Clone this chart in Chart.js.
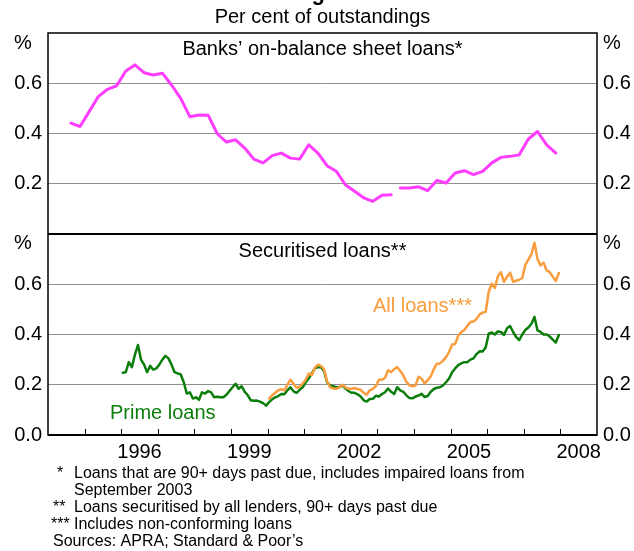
<!DOCTYPE html>
<html>
<head>
<meta charset="utf-8">
<script src="https://cdn.jsdelivr.net/npm/chart.js@4.4.1/dist/chart.umd.min.js"></script>
<style>
  html, body { margin: 0; padding: 0; background: #fff; }
</style>
</head>
<body>
<canvas id="arrears-chart" width="634" height="551"></canvas>
<script>
// Banks' on-balance sheet loans, quarterly (Sep 1994 - Jun 2003, then Sep 2003 - Dec 2007)
const banksStart = 1994.625;
const banksPre = [0.441, 0.428, 0.487, 0.547, 0.576, 0.59, 0.649, 0.673, 0.642, 0.633, 0.64, 0.593,
  0.54, 0.467, 0.474, 0.473, 0.399, 0.366, 0.375, 0.342, 0.298, 0.283, 0.312, 0.322,
  0.302, 0.298, 0.355, 0.322, 0.272, 0.25, 0.196, 0.17, 0.144, 0.13, 0.154, 0.156];
const banksPost = [0.183, 0.183, 0.188, 0.173, 0.213, 0.203, 0.243, 0.252, 0.236, 0.249, 0.283, 0.305,
  0.309, 0.315, 0.378, 0.408, 0.355, 0.322];

// Securitised loans, monthly
const primeStart = 1996;
const primeLoans = [
  0.248, 0.25, 0.29, 0.27, 0.32, 0.358, 0.3, 0.28, 0.25, 0.275, 0.26, 0.265,
  0.28, 0.3, 0.315, 0.305, 0.28, 0.25, 0.245, 0.242, 0.21, 0.165, 0.17, 0.145,
  0.15, 0.14, 0.17, 0.165, 0.175, 0.17, 0.15, 0.152, 0.15, 0.15, 0.16, 0.175,
  0.19, 0.204, 0.184, 0.194, 0.172, 0.158, 0.138, 0.136, 0.137, 0.133, 0.127, 0.117,
  0.131, 0.142, 0.15, 0.155, 0.163, 0.162, 0.178, 0.19, 0.174, 0.168, 0.18, 0.19,
  0.21, 0.225, 0.245, 0.265, 0.27, 0.27, 0.255, 0.21, 0.197, 0.194, 0.19, 0.19,
  0.197, 0.186, 0.175, 0.168, 0.168, 0.162, 0.153, 0.138, 0.133, 0.143, 0.144, 0.156,
  0.153, 0.163, 0.17, 0.185, 0.172, 0.163, 0.19, 0.178, 0.172, 0.158, 0.147, 0.146,
  0.153, 0.157, 0.164, 0.151, 0.155, 0.172, 0.183, 0.188, 0.19, 0.197, 0.21, 0.225,
  0.25, 0.265, 0.278, 0.285, 0.29, 0.29, 0.3, 0.305, 0.322, 0.333, 0.332, 0.348,
  0.403, 0.408, 0.4, 0.412, 0.41, 0.398, 0.425, 0.434, 0.41, 0.39, 0.378, 0.4,
  0.418, 0.428, 0.443, 0.47, 0.416, 0.41, 0.4, 0.4, 0.392, 0.38, 0.368, 0.398
];
const allStart = 2000;
const allLoans = [
  0.145, 0.158, 0.168, 0.178, 0.182, 0.178, 0.2, 0.22, 0.204, 0.188, 0.192, 0.205,
  0.22, 0.245, 0.238, 0.268, 0.28, 0.275, 0.262, 0.213, 0.19, 0.185, 0.184, 0.19,
  0.2, 0.19, 0.184, 0.184, 0.187, 0.183, 0.18, 0.168, 0.16, 0.178, 0.184, 0.195,
  0.22, 0.22, 0.228, 0.258, 0.25, 0.262, 0.27, 0.255, 0.237, 0.212, 0.198, 0.194,
  0.197, 0.232, 0.224, 0.205, 0.218, 0.234, 0.262, 0.284, 0.285, 0.295, 0.31, 0.33,
  0.36, 0.362, 0.395, 0.41, 0.418, 0.435, 0.45, 0.452, 0.462, 0.48, 0.487, 0.49,
  0.57, 0.602, 0.585, 0.632, 0.648, 0.61, 0.63, 0.646, 0.61, 0.614, 0.618, 0.625,
  0.677, 0.698, 0.72, 0.765, 0.7, 0.675, 0.686, 0.655, 0.648, 0.63, 0.613, 0.645
];

// Axis labels
const yearLabels = [1996, 1999, 2002, 2005, 2008];
const yTicks = [0, 0.2, 0.4, 0.6, 0.8];
const footnotes = [
  ["*", "Loans that are 90+ days past due, includes impaired loans from"],
  ["", "September 2003"],
  ["**", "Loans securitised by all lenders, 90+ days past due"],
  ["***", "Includes non-conforming loans"],
  ["Sources: APRA; Standard & Poor\u2019s", ""],
];

const FONT = '"Liberation Sans", Arial, sans-serif';
const GRID = "#8f8f8f";

function quarterly(start, values) {
  return values.map((v, i) => ({ x: start + i * 0.25, y: v }));
}
function monthly(start, values) {
  return values.map((v, i) => ({ x: start + (i + 0.5) / 12, y: v }));
}

function yAxis(position, weight, showZero) {
  return {
    type: "linear",
    position,
    stack: position,
    stackWeight: 1,
    weight,
    min: 0,
    max: 0.8,
    afterBuildTicks: (s) => { s.ticks = yTicks.map((v) => ({ value: v })); },
    afterFit: (s) => { s.width = position === "left" ? 48 : 37; },
    border: { display: false },
    grid: {
      display: position === "left",
      drawTicks: false,
      color: (c) => (c.tick && c.tick.value > 0.01 && c.tick.value < 0.79 ? GRID : "rgba(0,0,0,0)"),
      lineWidth: 1,
    },
    ticks: {
      padding: 6,
      color: "#000",
      font: { family: FONT, size: 20 },
      callback: (v) => {
        if (v > 0.79) return "";
        if (v < 0.01) return showZero ? "0.0" : "";
        return v.toFixed(1);
      },
    },
  };
}

const panelDecor = {
  id: "panelDecor",
  afterDraw(chart) {
    const ctx = chart.ctx;
    const a = chart.chartArea;
    const mid = chart.scales.yTop.bottom;
    const xs = chart.scales.x;
    const cx = (a.left + a.right) / 2;
    ctx.save();

    // frames
    ctx.strokeStyle = "#000";
    ctx.lineWidth = 1.5;
    ctx.strokeRect(a.left, a.top, a.right - a.left, a.bottom - a.top);
    ctx.lineWidth = 2;
    ctx.beginPath();
    ctx.moveTo(a.left, mid);
    ctx.lineTo(a.right, mid);
    ctx.moveTo(a.left, a.bottom);
    ctx.lineTo(a.right, a.bottom);
    ctx.stroke();

    // inward year ticks
    ctx.lineWidth = 1;
    ctx.beginPath();
    for (let yr = 1995; yr <= 2008; yr++) {
      const px = Math.round(xs.getPixelForValue(yr)) + 0.5;
      ctx.moveTo(px, a.bottom);
      ctx.lineTo(px, a.bottom - 6);
    }
    ctx.stroke();

    ctx.fillStyle = "#000";

    // chart title, cut off by the top edge
    ctx.font = "bold 22px " + FONT;
    ctx.textAlign = "center";
    ctx.textBaseline = "alphabetic";
    ctx.fillText("Housing Loan Arrears", cx + 30, 0);

    ctx.textBaseline = "middle";
    ctx.font = "20px " + FONT;
    ctx.fillText("Per cent of outstandings", cx, 17);

    // panel titles
    ctx.fillText("Banks\u2019 on-balance sheet loans*", cx, a.top + 16);
    ctx.fillText("Securitised loans**", cx, mid + 17);

    // unit labels
    ctx.textAlign = "left";
    [a.top + 10, mid + 9].forEach((y) => {
      ctx.fillText("%", 14, y);
      ctx.fillText("%", a.right + 6, y);
    });

    // series labels
    ctx.fillStyle = "#f99d3e";
    ctx.fillText("All loans***", 373, 306);
    ctx.fillStyle = "#0b7d0b";
    ctx.fillText("Prime loans", 110, 413);

    // footnotes
    ctx.fillStyle = "#000";
    ctx.font = "16px " + FONT;
    footnotes.forEach(([mark, text], i) => {
      const y = 474 + i * 17;
      const mx = mark.length === 1 ? 57 : mark.length === 2 ? 53 : 51;
      ctx.fillText(mark, text ? mx : 53, y);
      if (text) ctx.fillText(text, 74, y);
    });
    ctx.restore();
  },
};

new Chart(document.getElementById("arrears-chart"), {
  type: "line",
  data: {
    datasets: [
      { label: "All loans", data: monthly(allStart, allLoans), yAxisID: "yBot", borderColor: "#f99d3e", borderWidth: 2.5 },
      { label: "Prime loans", data: monthly(primeStart, primeLoans), yAxisID: "yBot", borderColor: "#0b7d0b", borderWidth: 2.5 },
      { label: "Banks", data: quarterly(banksStart, banksPre), yAxisID: "yTop", borderColor: "#ff3dff", borderWidth: 3 },
      { label: "Banks from Sep 2003", data: quarterly(banksStart + banksPre.length * 0.25, banksPost), yAxisID: "yTop", borderColor: "#ff3dff", borderWidth: 3 },
    ],
  },
  options: {
    responsive: false,
    animation: false,
    devicePixelRatio: 1,
    layout: { padding: { top: 33, left: 0, right: 0, bottom: 0 } },
    elements: {
      point: { radius: 0 },
      line: { tension: 0, borderJoinStyle: "round", borderCapStyle: "round" },
    },
    plugins: { legend: { display: false }, tooltip: { enabled: false } },
    scales: {
      x: {
        type: "linear",
        min: 1994,
        max: 2009,
        afterBuildTicks: (s) => {
          const t = [];
          for (let yr = 1994; yr <= 2009; yr++) t.push({ value: yr });
          s.ticks = t;
        },
        afterFit: (s) => { s.height = 116; },
        border: { display: false },
        grid: { display: false },
        ticks: {
          autoSkip: false,
          maxRotation: 0,
          padding: -3,
          labelOffset: 18.3,
          color: "#000",
          font: { family: FONT, size: 20 },
          callback: (v) => (yearLabels.includes(v) ? String(v) : ""),
        },
      },
      yTop: yAxis("left", 1, false),
      yBot: yAxis("left", 0, true),
      yTopR: yAxis("right", 0, false),
      yBotR: yAxis("right", 1, true),
    },
  },
  plugins: [panelDecor],
});
</script>
</body>
</html>
